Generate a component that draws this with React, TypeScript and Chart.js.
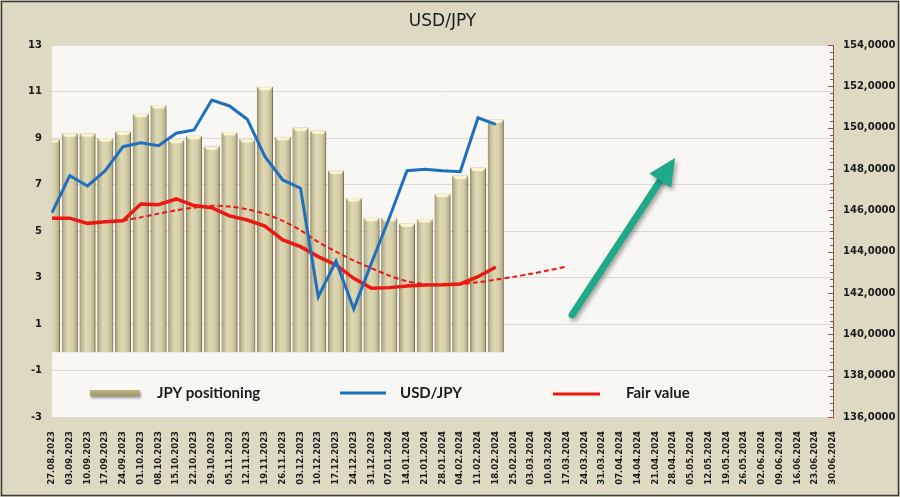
import React, { useEffect, useRef } from "react";
import { Chart, registerables } from "chart.js";

Chart.register(...registerables);

// ---------- data ----------
const dateLabels = [
  "27.08.2023", "03.09.2023", "10.09.2023", "17.09.2023", "24.09.2023",
  "01.10.2023", "08.10.2023", "15.10.2023", "22.10.2023", "29.10.2023",
  "05.11.2023", "12.11.2023", "19.11.2023", "26.11.2023", "03.12.2023",
  "10.12.2023", "17.12.2023", "24.12.2023", "31.12.2023", "07.01.2024",
  "14.01.2024", "21.01.2024", "28.01.2024", "04.02.2024", "11.02.2024",
  "18.02.2024", "25.02.2024", "03.03.2024", "10.03.2024", "17.03.2024",
  "24.03.2024", "31.03.2024", "07.04.2024", "14.04.2024", "21.04.2024",
  "28.04.2024", "05.05.2024", "12.05.2024", "19.05.2024", "26.05.2024",
  "02.06.2024", "09.06.2024", "16.06.2024", "23.06.2024", "30.06.2024",
];

const jpyPositioning = [
  8.95, 9.2, 9.2, 9.0, 9.28, 10.04, 10.42, 8.92, 9.1, 8.64, 9.26, 8.96, 11.2,
  9.05, 9.45, 9.32, 7.6, 6.42, 5.57, 5.57, 5.32, 5.52, 6.6, 7.39, 7.73, 9.8,
];

const usdJpy = [
  145.89, 147.68, 147.18, 147.92, 149.08, 149.27, 149.13, 149.73, 149.89,
  151.34, 151.05, 150.41, 148.6, 147.47, 147.07, 141.81, 143.55, 141.23,
  143.45, 145.63, 147.92, 147.99, 147.92, 147.87, 150.48, 150.16,
];

const fairValue = [
  145.62, 145.62, 145.37, 145.45, 145.5, 146.31, 146.27, 146.55, 146.23,
  146.13, 145.73, 145.53, 145.24, 144.57, 144.24, 143.76, 143.36, 142.71,
  142.23, 142.26, 142.34, 142.39, 142.4, 142.44, 142.79, 143.26,
];

const fairValueTrend = [
  null, null, null, null, 145.5, 145.66, 145.84, 146.0, 146.13, 146.22,
  146.18, 146.05, 145.83, 145.49, 145.04, 144.47, 144.0, 143.57, 143.2,
  142.84, 142.57, 142.43, 142.39, 142.43, 142.52, 142.65, 142.78, 142.93,
  143.1, 143.28,
];

const leftAxisRange = [-3, 13];
const leftAxisStep = 2;
const rightAxisRange = [136, 154];
const rightAxisStep = 2;

// arrow annotation in data units: [category index, USD/JPY value]
const arrowFrom = [29.3, 140.94];
const arrowTo = [35.1, 148.53];

const seriesNames = ["JPY positioning", "USD/JPY", "Fair value"];

// ---------- styles ----------
const BG = "rgb(221,217,195)";
const PLOT_BG = "rgb(248,247,243)";
const BLUE = "rgb(30,112,190)";
const RED = "rgb(236,24,20)";
const ARROW = "rgb(31,168,138)";
const TEXT = "#1b1b1b";

function barGradient(ctx: CanvasRenderingContext2D, x0: number, x1: number) {
  const g = ctx.createLinearGradient(x0, 0, x1, 0);
  g.addColorStop(0, "rgb(140,131,92)");
  g.addColorStop(0.13, "rgb(192,184,142)");
  g.addColorStop(0.38, "rgb(222,216,182)");
  g.addColorStop(0.68, "rgb(214,207,169)");
  g.addColorStop(0.9, "rgb(186,178,136)");
  g.addColorStop(1, "rgb(132,123,86)");
  return g;
}

const backgroundPlugin = {
  id: "bgPlugin",
  beforeDraw(chart: any) {
    const { ctx, width, height, chartArea } = chart;
    ctx.save();
    ctx.fillStyle = BG;
    ctx.fillRect(0, 0, width, height);
    ctx.fillStyle = PLOT_BG;
    ctx.fillRect(
      chartArea.left,
      chartArea.top,
      chartArea.right - chartArea.left,
      chartArea.bottom - chartArea.top
    );
    ctx.strokeStyle = "#3a3a3a";
    ctx.lineWidth = 1.5;
    ctx.strokeRect(1.5, 1.5, width - 3, height - 3);
    ctx.restore();
  },
};

const barDecorPlugin = {
  id: "barDecor",
  beforeDatasetDraw(chart: any, args: any) {
    if (args.meta.type !== "bar") return;
    const ctx = chart.ctx;
    ctx.save();
    ctx.shadowColor = "rgba(0,0,0,0.35)";
    ctx.shadowBlur = 3;
    ctx.shadowOffsetX = 2;
    ctx.shadowOffsetY = 1;
  },
  afterDatasetDraw(chart: any, args: any) {
    if (args.meta.type !== "bar") return;
    const ctx = chart.ctx;
    ctx.restore();
    const { chartArea } = chart;
    ctx.save();
    ctx.beginPath();
    ctx.rect(chartArea.left, chartArea.top, chartArea.right - chartArea.left, chartArea.bottom - chartArea.top);
    ctx.clip();
    args.meta.data.forEach((el: any) => {
      const { x, y, width } = el.getProps(["x", "y", "width"], true);
      if (!isFinite(y)) return;
      const l = x - width / 2;
      const r = x + width / 2;
      ctx.fillStyle = "rgba(255,251,215,0.85)";
      ctx.beginPath();
      ctx.moveTo(l, y);
      ctx.lineTo(r, y);
      ctx.lineTo(r - 3, y + 3.5);
      ctx.lineTo(l + 3, y + 3.5);
      ctx.closePath();
      ctx.fill();
    });
    ctx.restore();
  },
};

const rightAxisTicksPlugin = {
  id: "rightTicks",
  afterDraw(chart: any) {
    const s = chart.scales.y1;
    const ctx = chart.ctx;
    ctx.save();
    ctx.strokeStyle = "rgb(150,80,70)";
    ctx.lineWidth = 1;
    const xr = s.left;
    const steps = Math.round((rightAxisRange[1] - rightAxisRange[0]) * 3);
    for (let i = 0; i <= steps; i++) {
      const v = rightAxisRange[0] + i / 3;
      const y = Math.round(s.getPixelForValue(v)) + 0.5;
      const len = i % 6 === 0 ? 5 : 3;
      ctx.beginPath();
      ctx.moveTo(xr - len, y);
      ctx.lineTo(xr, y);
      ctx.stroke();
    }
    ctx.restore();
  },
};

const arrowPlugin = {
  id: "arrow",
  afterDatasetsDraw(chart: any) {
    const xs = chart.scales.x;
    const ys = chart.scales.y1;
    const x1 = xs.getPixelForValue(arrowFrom[0]);
    const y1 = ys.getPixelForValue(arrowFrom[1]);
    const x2 = xs.getPixelForValue(arrowTo[0]);
    const y2 = ys.getPixelForValue(arrowTo[1]);
    const dx = x2 - x1;
    const dy = y2 - y1;
    const len = Math.hypot(dx, dy);
    const ux = dx / len;
    const uy = dy / len;
    const px = -uy;
    const py = ux;
    const headL = 27;
    const headW = 13;
    const ctx = chart.ctx;
    ctx.save();
    ctx.shadowColor = "rgba(0,0,0,0.35)";
    ctx.shadowBlur = 4;
    ctx.shadowOffsetX = 2;
    ctx.shadowOffsetY = 3;
    ctx.strokeStyle = ARROW;
    ctx.fillStyle = ARROW;
    ctx.lineWidth = 7;
    ctx.lineCap = "round";
    ctx.beginPath();
    ctx.moveTo(x1, y1);
    ctx.lineTo(x2 - ux * headL * 0.8, y2 - uy * headL * 0.8);
    ctx.stroke();
    const bx = x2 - ux * headL;
    const by = y2 - uy * headL;
    ctx.beginPath();
    ctx.moveTo(x2, y2);
    ctx.lineTo(bx + px * headW, by + py * headW);
    ctx.lineTo(bx - px * headW, by - py * headW);
    ctx.closePath();
    ctx.fill();
    ctx.restore();
  },
};

const legendPlugin = {
  id: "customLegend",
  afterDatasetsDraw(chart: any) {
    const ctx = chart.ctx;
    const { chartArea } = chart;
    const y = chartArea.bottom - 24;
    ctx.save();
    ctx.shadowColor = "rgba(0,0,0,0.4)";
    ctx.shadowBlur = 3;
    ctx.shadowOffsetX = 1;
    ctx.shadowOffsetY = 2;
    const g = ctx.createLinearGradient(0, y - 3, 0, y + 3);
    g.addColorStop(0, "rgb(190,182,135)");
    g.addColorStop(1, "rgb(160,151,102)");
    ctx.fillStyle = g;
    ctx.fillRect(90, y - 3, 50, 6);
    ctx.shadowColor = "transparent";
    ctx.lineWidth = 3;
    ctx.strokeStyle = BLUE;
    ctx.beginPath();
    ctx.moveTo(340, y);
    ctx.lineTo(386, y);
    ctx.stroke();
    ctx.strokeStyle = RED;
    ctx.beginPath();
    ctx.moveTo(553, y + 1);
    ctx.lineTo(600, y + 1);
    ctx.stroke();
    ctx.fillStyle = TEXT;
    ctx.font = "bold 15px Lato, 'Open Sans', sans-serif";
    ctx.textBaseline = "middle";
    ctx.textAlign = "left";
    ctx.fillText(seriesNames[0], 157, y);
    ctx.fillText(seriesNames[1], 400, y);
    ctx.fillText(seriesNames[2], 626, y);
    ctx.restore();
  },
};

export default function App() {
  const ref = useRef<HTMLCanvasElement>(null);

  useEffect(() => {
    document.body.style.margin = "0";
    const canvas = ref.current;
    if (!canvas) return;

    const chart = new Chart(canvas, {
      type: "bar",
      data: {
        labels: dateLabels,
        datasets: [
          {
            type: "line",
            label: seriesNames[1],
            data: usdJpy,
            yAxisID: "y1",
            borderColor: BLUE,
            borderWidth: 3,
            pointRadius: 0,
            tension: 0,
            order: 1,
          } as any,
          {
            type: "line",
            label: seriesNames[2],
            data: fairValue,
            yAxisID: "y1",
            borderColor: RED,
            borderWidth: 3.5,
            pointRadius: 0,
            tension: 0,
            order: 2,
          },
          {
            type: "line",
            label: "Fair value trend",
            data: fairValueTrend,
            yAxisID: "y1",
            borderColor: RED,
            borderWidth: 2,
            borderDash: [5, 3],
            pointRadius: 0,
            tension: 0.3,
            spanGaps: false,
            order: 3,
          },
          {
            type: "bar",
            label: seriesNames[0],
            data: jpyPositioning,
            yAxisID: "y",
            base: -0.22,
            backgroundColor: (c: any) => {
              const ch = c.chart;
              if (!ch.chartArea) return "rgb(210,203,165)";
              const xs = ch.scales.x;
              const xc = xs.getPixelForValue(c.dataIndex);
              const w = (xs.getPixelForValue(1) - xs.getPixelForValue(0)) * 0.9;
              return barGradient(ch.ctx, xc - w / 2, xc + w / 2);
            },
            borderColor: "rgb(125,116,80)",
            borderWidth: 0.8,
            barPercentage: 0.9,
            categoryPercentage: 1,
            clip: 0,
            order: 4,
          } as any,
        ],
      },
      options: {
        responsive: false,
        animation: false,
        layout: { padding: 0 },
        plugins: {
          legend: { display: false },
          tooltip: { enabled: false },
          title: {
            display: true,
            text: "USD/JPY",
            fullSize: false,
            color: TEXT,
            font: { family: "'DejaVu Sans', Verdana, sans-serif", size: 17, weight: "normal", lineHeight: 1.2 },
            padding: { top: 11, bottom: 13.6 },
          },
        },
        scales: {
          x: {
            offset: false,
            grid: { display: false },
            border: { display: false },
            ticks: {
              autoSkip: false,
              maxRotation: 90,
              minRotation: 90,
              padding: 6,
              color: TEXT,
              font: { family: "'DejaVu Sans', Verdana, sans-serif", size: 8.5, weight: "bold" },
            },
            afterFit(scale: any) {
              scale.height = 80;
            },
          },
          y: {
            position: "left",
            min: leftAxisRange[0],
            max: leftAxisRange[1],
            grid: { color: "rgb(218,217,212)", drawTicks: false, lineWidth: 1 },
            border: { display: false },
            ticks: {
              stepSize: leftAxisStep,
              padding: 10,
              color: TEXT,
              font: { family: "'DejaVu Sans', Verdana, sans-serif", size: 10, weight: "bold" },
            },
            afterFit(scale: any) {
              scale.width = 52;
            },
          },
          y1: {
            position: "right",
            min: rightAxisRange[0],
            max: rightAxisRange[1],
            grid: { display: false, drawTicks: false },
            border: { display: true, color: "rgb(150,80,70)", width: 1 },
            ticks: {
              stepSize: rightAxisStep,
              padding: 10,
              color: TEXT,
              font: { family: "'DejaVu Sans', Verdana, sans-serif", size: 10, weight: "bold" },
              callback: (v: any) => Number(v).toFixed(4).replace(".", ","),
            },
            afterFit(scale: any) {
              scale.width = 67;
            },
          },
        },
      },
      plugins: [backgroundPlugin, barDecorPlugin, rightAxisTicksPlugin, arrowPlugin, legendPlugin],
    });

    return () => chart.destroy();
  }, []);

  return (
    <div style={{ width: 900, height: 497, position: "relative" }}>
      <canvas ref={ref} width={900} height={497} style={{ display: "block" }} />
    </div>
  );
}
